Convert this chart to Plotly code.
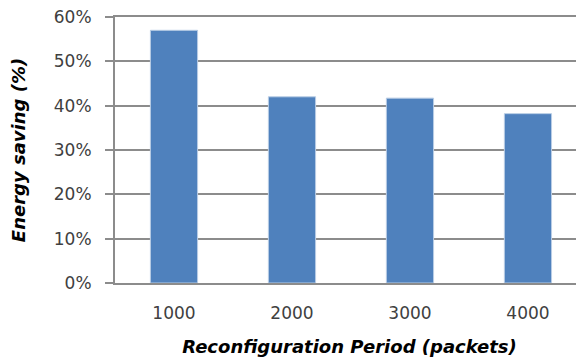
import plotly.graph_objects as go

categories = ["1000", "2000", "3000", "4000"]
energy_saving = [57.0, 42.0, 41.7, 38.2]
y_ticks = [0, 10, 20, 30, 40, 50, 60]
y_tick_labels = ["0%", "10%", "20%", "30%", "40%", "50%", "60%"]

fig = go.Figure(go.Bar(
    x=categories, y=energy_saving, width=0.4,
    marker=dict(color="#4F81BD", line=dict(color="#B9CDE5", width=1)),
))

font_family = "'DejaVu Sans', sans-serif"
fig.update_layout(
    width=576, height=354,
    margin=dict(l=107, r=0, t=9, b=79, autoexpand=False),
    plot_bgcolor="white", paper_bgcolor="white",
    showlegend=False,
    font=dict(family=font_family, size=17, color="#404040"),
    xaxis=dict(
        type="category", range=[-0.5, 3.475], automargin=False,
        showgrid=False, ticks="",
        showline=True, mirror=True, linecolor="#8C8C8C", linewidth=2,
        tickfont=dict(size=17, color="#404040"),
        ticklabelstandoff=14,
        title=dict(text="<b><i>Reconfiguration Period (packets)</i></b>",
                   font=dict(size=18, color="#000000"), standoff=18),
    ),
    yaxis=dict(
        range=[0, 60], tickvals=y_ticks, ticktext=y_tick_labels, automargin=False,
        ticklabeloverflow="allow",
        showgrid=True, gridcolor="#8C8C8C", gridwidth=2,
        showline=True, linecolor="#8C8C8C", linewidth=2,
        ticks="outside", ticklen=8, tickcolor="#8C8C8C", tickwidth=2,
        zeroline=False,
        tickfont=dict(size=17, color="#404040"),
        ticklabelstandoff=10,
        title=dict(text="<b><i>Energy saving (%)</i></b>",
                   font=dict(size=18, color="#000000"), standoff=24),
    ),
)

fig.write_html("out.html")
